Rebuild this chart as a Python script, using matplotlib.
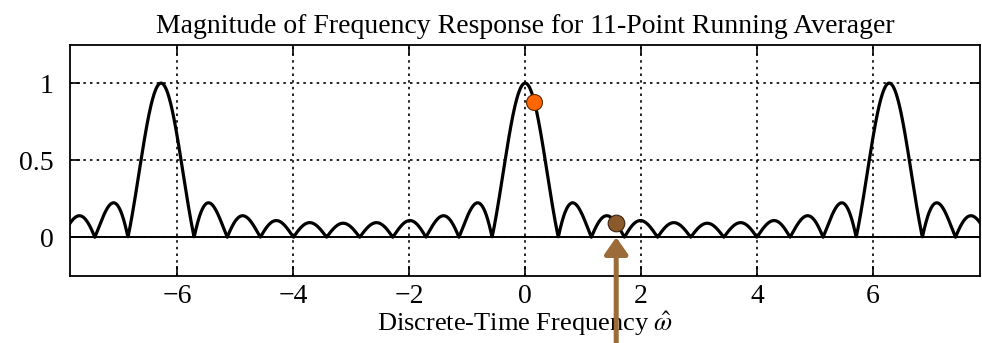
import numpy as np
import matplotlib.pyplot as plt

plt.rcParams['font.family'] = ['Liberation Serif', 'DejaVu Serif']
plt.rcParams['mathtext.fontset'] = 'stix'

# 11-point running averager coefficients
L = 11
h = np.ones(L) / L

# frequency grid (rad/sample) and the marked points
w_min, w_max = -2.5 * np.pi, 2.5 * np.pi
orange_pt = (0.16, 0.88)
brown_pt = (np.pi / 2, 1 / 11)

w = np.linspace(w_min, w_max, 4001)
n = np.arange(L)
H = np.exp(-1j * np.outer(w, n)) @ h
magH = np.abs(H)

fig = plt.figure(figsize=(9.82, 3.43), dpi=100)
ax = fig.add_axes([0.0713, 0.196, 0.927, 0.674])

ax.plot(w, magH, color='black', linewidth=2.3)
ax.axhline(0, color='black', linewidth=1.4)

ax.set_xlim(w_min, w_max)
ax.set_ylim(-0.25, 1.25)
ax.set_xticks([-6, -4, -2, 0, 2, 4, 6])
ax.set_xticklabels(['\u22126', '\u22124', '\u22122', '0', '2', '4', '6'])
ax.set_yticks([0, 0.5, 1])
ax.set_yticklabels(['0', '0.5', '1'])
ax.grid(True, color='black', linestyle=(0, (1.5, 2.5)), linewidth=1.2)
ax.tick_params(direction='in', length=7, width=1.2, top=True, right=True,
               labelsize=20, pad=6)
ax.tick_params(axis='y', pad=12)
for s in ax.spines.values():
    s.set_linewidth(1.3)

ax.plot(*orange_pt, 'o', color='#ff6600', markersize=11.5,
        markeredgecolor='#5a2a00', markeredgewidth=0.8, zorder=5)
ax.plot(*brown_pt, 'o', color='#8b5a2b', markersize=12,
        markeredgecolor='#3a2410', markeredgewidth=0.8, zorder=5)

# arrow from below the figure up to the zero line
ax.annotate('', xy=(brown_pt[0], 0), xycoords='data',
            xytext=(brown_pt[0], -0.05), textcoords=('data', 'figure fraction'),
            arrowprops=dict(arrowstyle='-|>,head_length=1.0,head_width=0.7',
                            color='#9c6b3a', linewidth=3.6,
                            shrinkA=0, shrinkB=0),
            annotation_clip=False, zorder=6)

ax.set_title('Magnitude of Frequency Response for 11-Point Running Averager',
             fontsize=20, pad=8)
ax.set_xlabel(r'Discrete-Time Frequency $\hat{\omega}$', fontsize=19, labelpad=0)

fig.savefig('out.png', dpi=100)
